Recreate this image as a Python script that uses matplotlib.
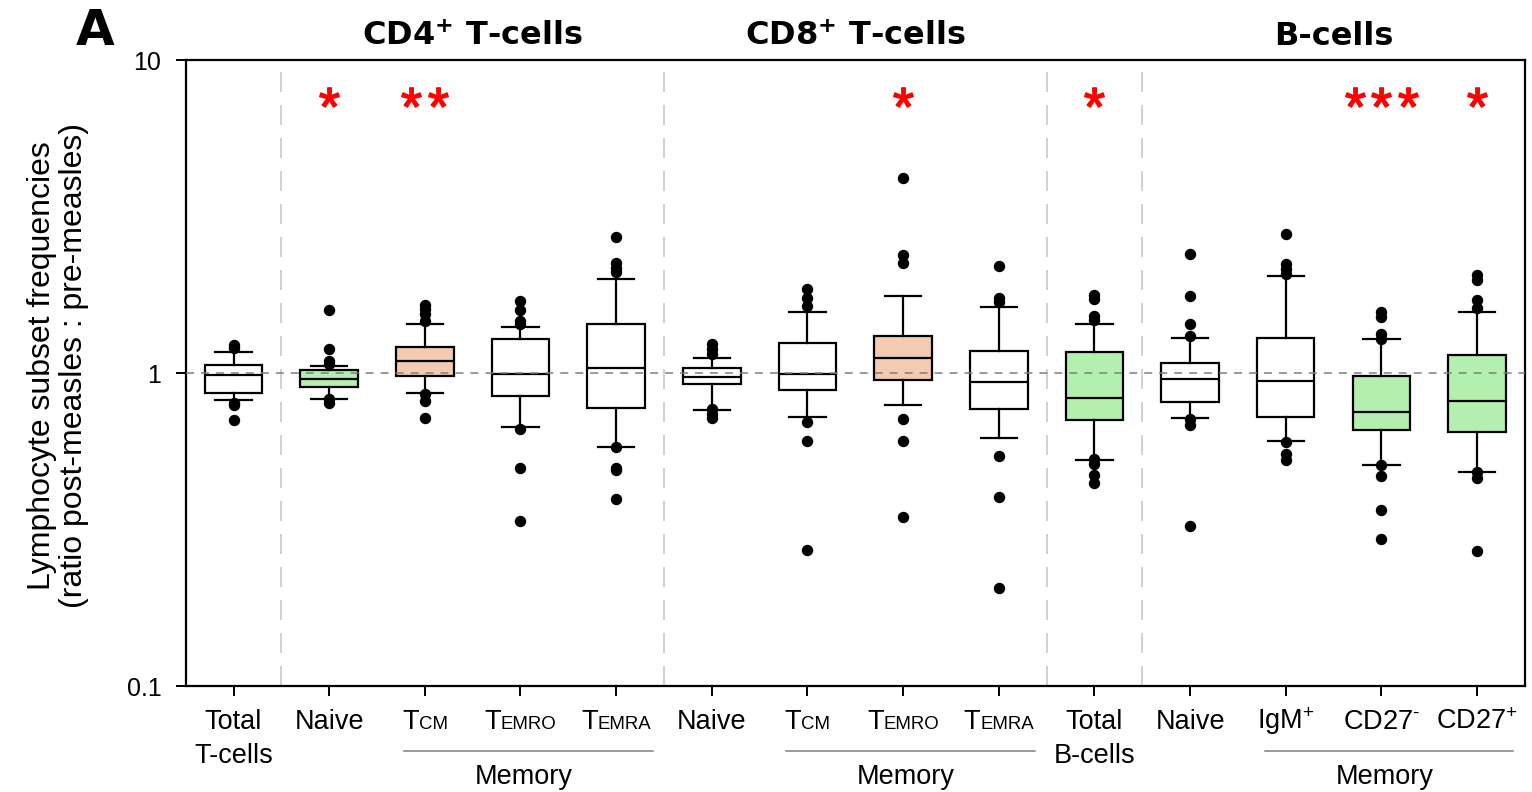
import matplotlib
matplotlib.use('Agg')
from matplotlib import pyplot as plt
from matplotlib.font_manager import FontProperties
from matplotlib.textpath import text_to_path
import matplotlib.transforms as mtransforms
import numpy as np

plt.rcParams['font.family'] = ['Liberation Sans', 'DejaVu Sans']
plt.rcParams['mathtext.fontset'] = 'custom'
plt.rcParams['mathtext.rm'] = 'Liberation Sans'
plt.rcParams['mathtext.bf'] = 'DejaVu Sans:bold'

# 各亚群 (post/pre 比值) 的箱线统计
label_main = ['Total', 'Naive', 'T', 'T', 'T', 'Naive', 'T', 'T', 'T',
              'Total', 'Naive', 'IgM$^{+}$', 'CD27$^{\\text{-}}$', 'CD27$^{+}$']
label_sub = ['', '', 'CM', 'EMRO', 'EMRA', '', 'CM', 'EMRO', 'EMRA',
             '', '', '', '', '']
label_second = ['T-cells', '', '', '', '', '', '', '', '',
                'B-cells', '', '', '', '']

med = [0.985, 0.959, 1.092, 0.993, 1.037, 0.971, 0.995, 1.114, 0.936,
       0.834, 0.959, 0.943, 0.749, 0.814]
q1 = [0.861, 0.900, 0.976, 0.844, 0.773, 0.920, 0.884, 0.948, 0.766,
      0.709, 0.808, 0.725, 0.656, 0.646]
q3 = [1.061, 1.022, 1.211, 1.284, 1.437, 1.035, 1.244, 1.310, 1.176,
      1.165, 1.076, 1.297, 0.976, 1.139]
whislo = [0.818, 0.828, 0.865, 0.672, 0.581, 0.762, 0.723, 0.790, 0.621,
          0.527, 0.720, 0.605, 0.507, 0.484]
whishi = [1.167, 1.055, 1.431, 1.406, 1.996, 1.117, 1.566, 1.758, 1.622,
          1.437, 1.291, 2.041, 1.281, 1.563]
fliers = [
    [1.229, 1.202, 0.802, 0.790, 0.708],
    [1.593, 1.190, 1.092, 1.066, 0.824, 0.804],
    [1.645, 1.598, 1.540, 1.466, 0.855, 0.814, 0.720],
    [1.698, 1.586, 1.466, 1.430, 0.664, 0.498, 0.337],
    [2.720, 2.250, 2.170, 2.107, 0.581, 0.498, 0.489, 0.397],
    [1.235, 1.190, 1.152, 0.765, 0.738, 0.720],
    [1.851, 1.733, 1.637, 0.699, 0.605, 0.273],
    [4.200, 2.377, 2.250, 0.714, 0.605, 0.347],
    [2.197, 1.740, 1.690, 0.543, 0.403, 0.205],
    [1.775, 1.720, 1.521, 1.474, 0.530, 0.511, 0.472, 0.446],
    [2.405, 1.758, 1.437, 1.313, 0.711, 0.681, 0.324],
    [2.787, 2.225, 2.145, 2.068, 0.603, 0.550, 0.526],
    [1.566, 1.510, 1.335, 1.287, 0.507, 0.469, 0.365, 0.296],
    [2.057, 1.978, 1.707, 1.616, 0.484, 0.463, 0.271],
]
# 显著性: 增加为橙色, 降低为绿色
change = ['none', 'down', 'up', 'none', 'none', 'none', 'none', 'up', 'none',
          'down', 'none', 'none', 'down', 'down']
sig = ['', '*', '**', '', '', '', '', '*', '', '*', '', '', '***', '*']
sig_level = 7.6

# 分组: 标题, 包含的箱子数
group_titles = ['', 'CD4$^{\\mathbf{+}}$ T-cells', 'CD8$^{\\mathbf{+}}$ T-cells', '', 'B-cells']
group_sizes = [1, 4, 4, 1, 4]
# Memory 子组 (起止索引)
memory_spans = [(2, 4), (6, 8), (11, 13)]

fill = {'none': 'white', 'down': '#b3f0b0', 'up': '#f2cbb0'}

fig = plt.figure(figsize=(15.32, 7.92), dpi=100)
ax = fig.add_axes([0.1212, 0.1338, 0.8742, 0.7904])

n = len(med)
pos = np.arange(n)
stats = [dict(med=med[i], q1=q1[i], q3=q3[i], whislo=whislo[i],
              whishi=whishi[i], fliers=fliers[i]) for i in range(n)]
lw = 1.6
bp = ax.bxp(stats, positions=pos, widths=0.6, capwidths=0.38,
            patch_artist=True, showfliers=True,
            boxprops=dict(linewidth=lw, edgecolor='black'),
            medianprops=dict(color='black', linewidth=lw),
            whiskerprops=dict(color='black', linewidth=lw),
            capprops=dict(color='black', linewidth=lw),
            flierprops=dict(marker='o', markerfacecolor='black',
                            markeredgecolor='black', markersize=7.2,
                            linestyle='none'))
for patch, c in zip(bp['boxes'], change):
    patch.set_facecolor(fill[c])

ax.axhline(1, color='#7f7f7f', linewidth=1.1, linestyle=(0, (5.2, 4.6)), zorder=5)

bounds = np.cumsum(group_sizes)[:-1] - 0.5
for b in bounds:
    ax.axvline(b, color='#c8c8c8', linewidth=1.2, linestyle=(0, (12, 7.8)), zorder=1)

ax.set_yscale('log')
ax.set_ylim(0.1, 10)
ax.set_xlim(-0.5, n - 0.5)
ax.set_yticks([0.1, 1, 10])
ax.set_yticklabels(['0.1', '1', '10'])
ax.yaxis.set_minor_locator(matplotlib.ticker.NullLocator())
ax.set_xticks(pos)
ax.set_xticklabels([])
ax.tick_params(axis='both', direction='out', length=7.5, width=1.4,
               labelsize=18, color='black')
ax.tick_params(axis='y', pad=10)
for s in ax.spines.values():
    s.set_linewidth(1.6)

# 显著性星号
for i, s in enumerate(sig):
    k = len(s)
    for j in range(k):
        ax.plot(i + (j - (k - 1) / 2) * 0.28, sig_level, marker='$*$',
                markersize=14, color='red', markeredgewidth=1.1)

# x 轴标签
xt = mtransforms.blended_transform_factory(ax.transData, ax.transAxes)
big, small = 19.5, 13.4
fp_big = FontProperties(family='Liberation Sans', size=big)
fp_small = FontProperties(family='Liberation Sans', size=small)
line1_y = -0.0687
line2_y = -0.123
for i in range(n):
    if label_sub[i]:
        wb = text_to_path.get_text_width_height_descent(label_main[i], fp_big, ismath=False)[0]
        ws = text_to_path.get_text_width_height_descent(label_sub[i], fp_small, ismath=False)[0]
        x0 = -(wb + ws) / 2
        ax.annotate(label_main[i], (i, line1_y), xycoords=xt, xytext=(x0, 0),
                    textcoords='offset points', ha='left', va='baseline',
                    fontsize=big, annotation_clip=False)
        ax.annotate(label_sub[i], (i, line1_y), xycoords=xt, xytext=(x0 + wb, 0),
                    textcoords='offset points', ha='left', va='baseline',
                    fontsize=small, annotation_clip=False)
    else:
        ax.text(i, line1_y, label_main[i], transform=xt, ha='center',
                va='baseline', fontsize=big)
    if label_second[i]:
        ax.text(i, line2_y, label_second[i], transform=xt, ha='center',
                va='baseline', fontsize=big)

# Memory 括线
for a, b in memory_spans:
    ax.plot([a - 0.22, b + 0.38], [-0.1038, -0.1038], transform=xt,
            color='#808080', linewidth=1.1, clip_on=False)
    ax.text((a + b) / 2 + 0.03, -0.157, 'Memory', transform=xt,
            ha='center', va='baseline', fontsize=big)

# 组标题
start = 0
for title, size in zip(group_titles, group_sizes):
    if title:
        ax.text(start + (size - 1) / 2, 1.024, title, transform=xt,
                ha='center', va='baseline', fontsize=23,
                fontfamily='DejaVu Sans', fontweight='bold')
    start += size

fig.text(76 / 1532, 1 - 45 / 792, 'A', fontsize=36, fontfamily='DejaVu Sans',
         fontweight='bold', ha='left', va='baseline')

fig.text(58 / 1532, 1 - 366 / 792,
         'Lymphocyte subset frequencies\n(ratio post-measles : pre-measles)',
         rotation=90, ha='center', va='center', fontsize=23, linespacing=1.1)

fig.savefig('out.png', dpi=100)
